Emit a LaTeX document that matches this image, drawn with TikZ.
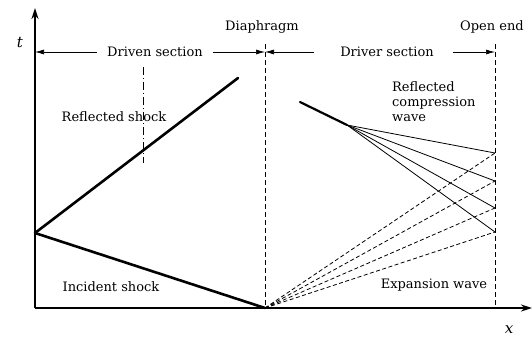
\documentclass[tikz,border=0pt]{standalone}
\usepackage{fontspec}
\setmainfont{DejaVu Serif}
\usetikzlibrary{arrows.meta}
\begin{document}
\begin{tikzpicture}[x=1pt,y=-1pt,
  lbl/.style={font=\fontsize{13}{16}\selectfont, inner sep=0pt},
  axisline/.style={line width=2pt, -{Stealth[length=11pt,width=7pt]}},
  shock/.style={line width=2.6pt, line cap=round},
  wall/.style={line width=1pt, dash pattern=on 5pt off 3pt},
  fan/.style={line width=0.8pt},
  exp/.style={line width=0.8pt, dash pattern=on 4pt off 2.5pt},
  dimarrow/.style={line width=0.7pt, -{Latex[length=9pt,width=5pt]}},
  leader/.style={line width=0.6pt, dash pattern=on 8pt off 3pt on 1pt off 3pt}]
\useasboundingbox (0,0) rectangle (532,340);
% key points
\coordinate (O) at (35,308);
\coordinate (ytip) at (35,8);
\coordinate (xtip) at (532,308);
\coordinate (D0) at (265,308);
\coordinate (Dtop) at (265,44);
\coordinate (E0) at (495,308);
\coordinate (Etop) at (495,44);
\coordinate (R) at (35,233);
\coordinate (Rend) at (238,78);
\coordinate (C0) at (300,102);
\coordinate (C1) at (347,125);
\coordinate (P1) at (495,153);
\coordinate (P2) at (495,181);
\coordinate (P3) at (495,208);
\coordinate (P4) at (495,232);
\coordinate (L0) at (143,67);
\coordinate (L1) at (143,163);
% axes
\draw[axisline] (O) -- (ytip);
\draw[axisline] (O) -- (xtip);
\node[lbl, font=\fontsize{15}{17}\selectfont\itshape] (tl) at (20,43) {t};
\node[lbl, font=\fontsize{15}{17}\selectfont\itshape] (xl) at (509,330) {x};
% walls
\draw[wall] (Dtop) -- (D0);
\draw[wall] (Etop) -- (E0);
\node[lbl] (diaph) at (262,27) {Diaphragm};
\node[lbl] (open) at (492,27) {Open end};
% section labels with arrows
\node[lbl] (driven) at (155,52) {Driven section};
\node[lbl] (driver) at (387,52) {Driver section};
\coordinate (a1) at (35,52);
\coordinate (a2) at (265,52);
\coordinate (a3) at (495,52);
\draw[dimarrow] ([xshift=-10pt]driven.west) -- (a1);
\draw[dimarrow] ([xshift=10pt]driven.east) -- (a2);
\draw[dimarrow] ([xshift=-26pt]driver.west) -- (a2);
\draw[dimarrow] ([xshift=19pt]driver.east) -- (a3);
% shocks
\draw[shock] (R) -- (D0);
\draw[shock] (R) -- (Rend);
\draw[leader] (L0) -- (L1);
\node[lbl] (rs) at (114,117) {Reflected shock};
\node[lbl] (is) at (111,287) {Incident shock};
% compression wave
\draw[shock, line width=2.2pt] (C0) -- (C1);
\foreach \p in {P1,P2,P3,P4} {
  \draw[fan] (C1) -- (\p);
  \draw[exp] (D0) -- (\p);
}
\node[lbl, align=left, anchor=west] (rcw) at (392,102) {Reflected\\[-1pt]compression\\[-1pt]wave};
\node[lbl] (ew) at (434,285) {Expansion wave};
\end{tikzpicture}
\end{document}
